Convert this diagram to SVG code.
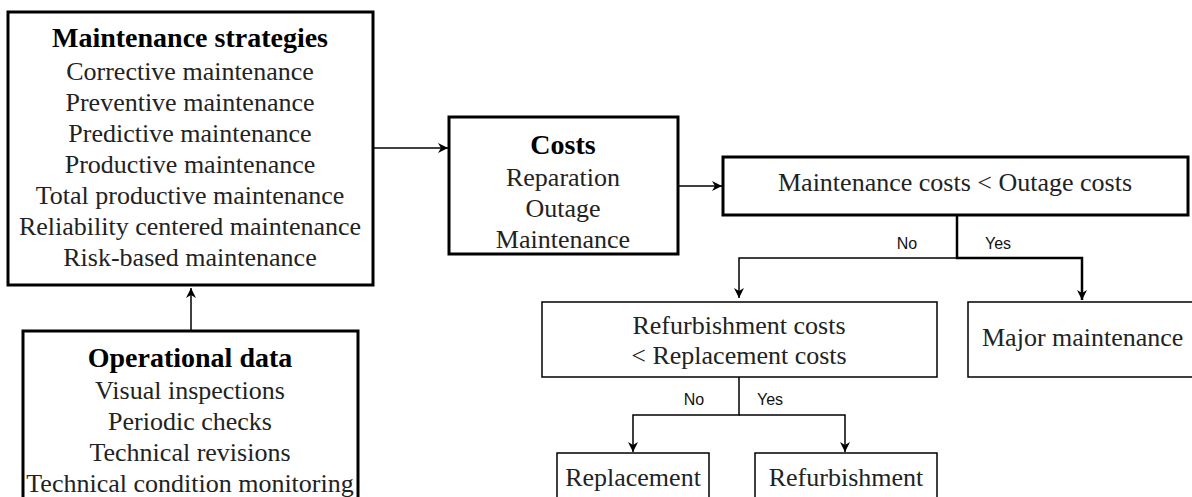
<svg xmlns="http://www.w3.org/2000/svg" width="1192" height="497" viewBox="0 0 1192 497">
<defs>
<marker id="ah" viewBox="0 0 10 10" refX="10" refY="5" markerWidth="10" markerHeight="10" markerUnits="userSpaceOnUse" orient="auto">
<path d="M0,0 L10,5 L0,10 L3,5 Z" fill="#000"/>
</marker>
<style>
.thick{fill:#fff;stroke:#000;stroke-width:3}
.thin{fill:#fff;stroke:#000;stroke-width:1.5}
.t{font-family:"Liberation Serif","Times New Roman",serif;font-size:26px;fill:#222;text-anchor:middle}
.b{font-weight:bold;fill:#000;font-size:28px}
.s{font-family:"Liberation Sans",Arial,sans-serif;font-size:16px;fill:#111;text-anchor:middle}
.c{fill:none;stroke:#000;stroke-width:1.5}
</style>
</defs>
<rect width="1192" height="497" fill="#fff"/>
<g id="connectors">
<line class="c" x1="191" y1="330" x2="191" y2="288" marker-end="url(#ah)"/>
<line class="c" x1="373" y1="148" x2="448" y2="148" marker-end="url(#ah)"/>
<line class="c" x1="678" y1="186" x2="722" y2="186" marker-end="url(#ah)"/>
<polyline class="c" points="957,216 957,258 739,258 739,298" marker-end="url(#ah)"/>
<polyline class="c" style="stroke-width:2.5" points="957,216 957,258 1082,258 1082,300" marker-end="url(#ah)"/>
<polyline class="c" points="739,377 739,415 633,415 633,452" marker-end="url(#ah)"/>
<polyline class="c" points="739,415 845,415 845,452" marker-end="url(#ah)"/>
<text class="s" x="907" y="249">No</text>
<text class="s" x="998" y="249">Yes</text>
<text class="s" x="694" y="405">No</text>
<text class="s" x="770" y="405">Yes</text>
</g>
<g id="strategies">
<rect class="thick" x="8" y="12" width="365" height="273"/>
<text class="t b" x="190" y="47">Maintenance strategies</text>
<text class="t" x="190" y="80">Corrective maintenance</text>
<text class="t" x="190" y="111">Preventive maintenance</text>
<text class="t" x="190" y="142">Predictive maintenance</text>
<text class="t" x="190" y="173">Productive maintenance</text>
<text class="t" x="190" y="204">Total productive maintenance</text>
<text class="t" x="190" y="235">Reliability centered maintenance</text>
<text class="t" x="190" y="266">Risk-based maintenance</text>
</g>
<g id="operational">
<rect class="thick" x="23" y="331" width="335" height="180"/>
<text class="t b" x="190" y="367">Operational data</text>
<text class="t" x="190" y="399">Visual inspections</text>
<text class="t" x="190" y="430">Periodic checks</text>
<text class="t" x="190" y="461">Technical revisions</text>
<text class="t" x="190" y="492">Technical condition monitoring</text>
</g>
<g id="costs">
<rect class="thick" x="449" y="117" width="229" height="137"/>
<text class="t b" x="563" y="154">Costs</text>
<text class="t" x="563" y="186">Reparation</text>
<text class="t" x="563" y="217">Outage</text>
<text class="t" x="563" y="248">Maintenance</text>
</g>
<g id="decision1">
<rect class="thick" x="723" y="157" width="465" height="58"/>
<text class="t" x="955" y="191">Maintenance costs &lt; Outage costs</text>
</g>
<g id="decision2">
<rect class="thin" x="542" y="302" width="395" height="75"/>
<text class="t" x="739" y="334">Refurbishment costs</text>
<text class="t" x="739" y="364">&lt; Replacement costs</text>
</g>
<g id="major">
<rect class="thin" x="968" y="302" width="240" height="75"/>
<text class="t" x="982" y="346" style="text-anchor:start">Major maintenance</text>
</g>
<g id="replacement">
<rect class="thin" x="557" y="453" width="152" height="60"/>
<text class="t" x="633" y="486">Replacement</text>
</g>
<g id="refurbishment">
<rect class="thin" x="755" y="453" width="182" height="60"/>
<text class="t" x="846" y="486">Refurbishment</text>
</g>
</svg>
